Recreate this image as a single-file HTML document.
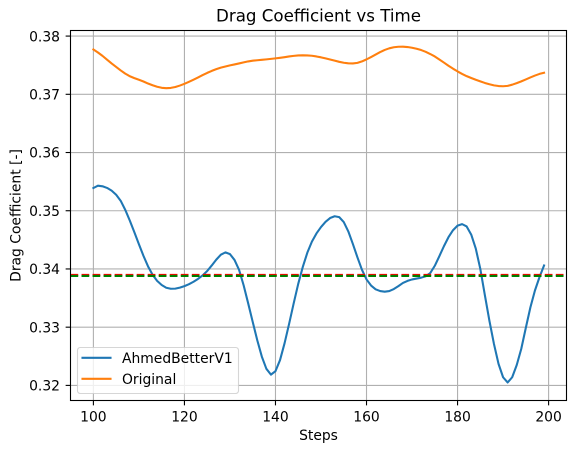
<!DOCTYPE html>
<html>
<head>
<meta charset="utf-8">
<style>
html,body{margin:0;padding:0;background:#fff;}
svg{display:block;font-family:"DejaVu Sans","Liberation Sans",sans-serif;}
</style>
</head>
<body>
<svg id="chart" width="576" height="453" viewBox="0 0 576 453" xmlns="http://www.w3.org/2000/svg"></svg>
<script>
const steps = [];
for (let s = 100; s <= 199; s++) steps.push(s);
const xTicks = [100, 120, 140, 160, 180, 200];
const yTicks = [0.32, 0.33, 0.34, 0.35, 0.36, 0.37, 0.38];
const yTickLabels = ['0.32', '0.33', '0.34', '0.35', '0.36', '0.37', '0.38'];
const ahmedValues = [
.35390,.35430,.35420,.35392,.35345,.35275,.35170,.35015,.34830,.34630,
.34425,.34225,.34045,.33900,.33795,.33725,.33678,.33660,.33662,.33680,
.33705,.33738,.33780,.33830,.33890,.33965,.34060,.34160,.34245,.34285,
.34255,.34155,.33985,.33720,.33410,.33090,.32775,.32495,.32285,.32185,
.32245,.32435,.32725,.33060,.33410,.33745,.34035,.34280,.34470,.34610,
.34720,.34810,.34875,.34905,.34890,.34805,.34645,.34430,.34200,.33985,
.33820,.33715,.33650,.33620,.33610,.33620,.33655,.33705,.33760,.33795,
.33820,.33835,.33850,.33875,.33930,.34055,.34220,.34390,.34545,.34665,
.34745,.34770,.34730,.34590,.34350,.34000,.33550,.33110,.32710,.32370,
.32140,.32050,.32140,.32350,.32630,.32990,.33340,.33630,.33860,.34060];
const originalValues = [
.37770,.37718,.37660,.37595,.37530,.37470,.37410,.37355,.37310,.37278,
.37250,.37220,.37185,.37155,.37130,.37112,.37105,.37110,.37125,.37150,
.37180,.37215,.37252,.37290,.37330,.37368,.37402,.37432,.37458,.37478,
.37497,.37513,.37530,.37548,.37565,.37577,.37585,.37592,.37600,.37608,
.37617,.37627,.37638,.37650,.37660,.37667,.37670,.37668,.37662,.37650,
.37635,.37617,.37598,.37578,.37558,.37542,.37532,.37530,.37540,.37565,
.37600,.37640,.37682,.37725,.37762,.37790,.37808,.37817,.37818,.37812,
.37800,.37783,.37760,.37730,.37692,.37650,.37598,.37545,.37490,.37440,
.37393,.37350,.37312,.37280,.37250,.37222,.37195,.37172,.37153,.37142,
.37138,.37145,.37165,.37192,.37222,.37255,.37290,.37322,.37350,.37370];
const meanRed = [0.33898];
const meanGreen = [0.33880];

const NS = 'http://www.w3.org/2000/svg';
const svg = document.getElementById('chart');
const axLeft = 70.5, axRight = 566.5, axTop = 30.5, axBottom = 400.5;
function xScale(v) { return 93.4 + (v - 100) * 4.552; }
function yScale(v) { return 385.4 - (v - 0.32) * 5822; }
function make(tag, attrs, parent) {
  const el = document.createElementNS(NS, tag);
  for (const k in attrs) el.setAttribute(k, attrs[k]);
  (parent || svg).appendChild(el);
  return el;
}
const defs = make('defs', {});
const clip = make('clipPath', { id: 'plot-clip' }, defs);
make('rect', { x: axLeft, y: axTop, width: axRight - axLeft, height: axBottom - axTop }, clip);

const gridColor = '#b0b0b0';
const gridW = 1.1;
const inkColor = '#000';

xTicks.forEach(function (t) {
  const x = xScale(t);
  const g = make('line', { x1: x, x2: x, y1: axTop, y2: axBottom, stroke: gridColor, 'stroke-width': gridW });
  
  
});
yTicks.forEach(function (t) {
  const y = yScale(t);
  const g = make('line', { x1: axLeft, x2: axRight, y1: y, y2: y, stroke: gridColor, 'stroke-width': gridW });
  
  
});

function seriesPath(values) {
  return values.map(function (v, i) {
    return (i ? 'L' : 'M') + xScale(steps[i]).toFixed(2) + ' ' + yScale(v).toFixed(2);
  }).join(' ');
}
const blueLine = make('path', { d: seriesPath(ahmedValues), fill: 'none', stroke: '#1f77b4', 'stroke-width': 2.08, 'stroke-linejoin': 'round', 'stroke-linecap': 'square', 'clip-path': 'url(#plot-clip)' });


const orangeLine = make('path', { d: seriesPath(originalValues), fill: 'none', stroke: '#ff7f0e', 'stroke-width': 2.08, 'stroke-linejoin': 'round', 'stroke-linecap': 'square', 'clip-path': 'url(#plot-clip)' });



const redMean = make('line', { x1: axLeft, x2: axRight, y1: yScale(meanRed[0]), y2: yScale(meanRed[0]), stroke: '#ff0000', 'stroke-width': 2.08, 'stroke-dasharray': '7.7 3.33' });


const greenMean = make('line', { x1: axLeft, x2: axRight, y1: yScale(meanGreen[0]), y2: yScale(meanGreen[0]), stroke: '#008000', 'stroke-width': 2.08, 'stroke-dasharray': '7.7 3.33' });



xTicks.forEach(function (t) {
  const x = xScale(t);
  const m = make('line', { x1: x, x2: x, y1: axBottom, y2: axBottom + 4.86, stroke: inkColor, 'stroke-width': 1.1 });
  
  
  const l = make('text', { x: x, y: 421.5, 'text-anchor': 'middle', 'font-size': 13.89, fill: inkColor });
  
  
  l.textContent = String(t);
});
yTicks.forEach(function (t, i) {
  const y = yScale(t);
  const m = make('line', { x1: axLeft - 4.86, x2: axLeft, y1: y, y2: y, stroke: inkColor, 'stroke-width': 1.1 });
  
  
  const l = make('text', { x: 60, y: y + 5.2, 'text-anchor': 'end', 'font-size': 13.89, fill: inkColor });
  
  
  l.textContent = yTickLabels[i];
});

const frame = make('rect', { x: axLeft, y: axTop, width: axRight - axLeft, height: axBottom - axTop, fill: 'none', stroke: inkColor, 'stroke-width': 1.1 });



const title = make('text', { x: 318.5, y: 21.5, 'text-anchor': 'middle', 'font-size': 16.67, fill: inkColor });


title.textContent = 'Drag Coefficient vs Time';

const xTitle = make('text', { x: 318.5, y: 440, 'text-anchor': 'middle', 'font-size': 13.89, fill: inkColor });


xTitle.textContent = 'Steps';

const yTitle = make('text', { x: 0, y: 0, transform: 'translate(20.5 215.5) rotate(-90)', 'text-anchor': 'middle', 'font-size': 13.89, fill: inkColor });


yTitle.textContent = 'Drag Coefficient [-]';

const legend = make('g', {});


const legendBox = make('rect', { x: 77.5, y: 347.5, width: 161, height: 46, rx: 2.8, ry: 2.8, fill: '#fff', 'fill-opacity': 0.8, stroke: '#cccccc', 'stroke-opacity': 0.8, 'stroke-width': 1.1 }, legend);


const legendBlue = make('line', { x1: 82.5, x2: 110.5, y1: 357.8, y2: 357.8, stroke: '#1f77b4', 'stroke-width': 2.08, 'stroke-linecap': 'square' }, legend);


const legendBlueText = make('text', { x: 122, y: 363, 'font-size': 13.89, fill: inkColor }, legend);


legendBlueText.textContent = 'AhmedBetterV1';
const legendOrange = make('line', { x1: 82.5, x2: 110.5, y1: 378.8, y2: 378.8, stroke: '#ff7f0e', 'stroke-width': 2.08, 'stroke-linecap': 'square' }, legend);


const legendOrangeText = make('text', { x: 122, y: 384, 'font-size': 13.89, fill: inkColor }, legend);


legendOrangeText.textContent = 'Original';
</script>
</body>
</html>
